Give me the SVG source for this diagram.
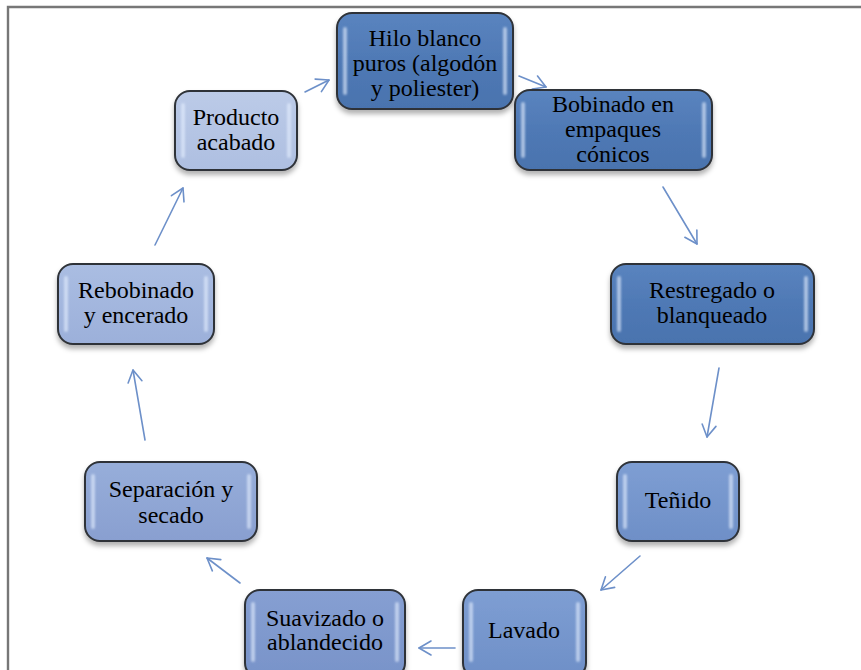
<svg xmlns="http://www.w3.org/2000/svg" width="861" height="670" viewBox="0 0 861 670">
  <style>
    .node rect.box { stroke: #2f3338; stroke-width: 2; }
    .node rect.shine { fill: #e6f0ff; opacity: 0.6; filter: url(#soft); }
    .node text { font-family: "Liberation Serif", "Times New Roman", serif; font-size: 24px; fill: #000; text-anchor: middle; }
    .link { fill: none; stroke: #6d90c9; stroke-width: 1.6; stroke-linecap: round; marker-end: url(#chev); }
    .frame { stroke: #777; stroke-width: 2.4; fill: none; }
  </style>
  <defs>
    <marker id="chev" markerUnits="userSpaceOnUse" markerWidth="30" markerHeight="30" viewBox="-15 -15 30 30" refX="0" refY="0" orient="auto">
      <path d="M-12,-7 L0,0 L-12,7" fill="none" stroke="#6d90c9" stroke-width="1.6" stroke-linecap="round" stroke-linejoin="round"/>
    </marker>
    <filter id="shadow" x="-10%" y="-10%" width="120%" height="135%">
      <feDropShadow dx="0" dy="4" stdDeviation="2.5" flood-color="#000" flood-opacity="0.3"/>
    </filter>
    <filter id="soft" x="-100%" y="-10%" width="300%" height="120%">
      <feGaussianBlur stdDeviation="0.8"/>
    </filter>
    <linearGradient id="gDark" x1="0" y1="0" x2="0" y2="1">
      <stop offset="0" stop-color="#5a84bf"/>
      <stop offset="0.5" stop-color="#4f79b5"/>
      <stop offset="1" stop-color="#4a73ae"/>
    </linearGradient>
    <linearGradient id="gMid" x1="0" y1="0" x2="0" y2="1">
      <stop offset="0" stop-color="#7e9ed3"/>
      <stop offset="1" stop-color="#6e8fc7"/>
    </linearGradient>
    <linearGradient id="gMid2" x1="0" y1="0" x2="0" y2="1">
      <stop offset="0" stop-color="#869fd2"/>
      <stop offset="1" stop-color="#7893c9"/>
    </linearGradient>
    <linearGradient id="gLight" x1="0" y1="0" x2="0" y2="1">
      <stop offset="0" stop-color="#97aeda"/>
      <stop offset="1" stop-color="#899fd0"/>
    </linearGradient>
    <linearGradient id="gLighter" x1="0" y1="0" x2="0" y2="1">
      <stop offset="0" stop-color="#aabde2"/>
      <stop offset="1" stop-color="#9cb0da"/>
    </linearGradient>
    <linearGradient id="gLightest" x1="0" y1="0" x2="0" y2="1">
      <stop offset="0" stop-color="#bccbe8"/>
      <stop offset="1" stop-color="#aebfe1"/>
    </linearGradient>
  </defs>

  <rect width="861" height="670" fill="#fff"/>
  <!-- page frame -->
  <path class="frame" d="M8,670 L8,7 L861,7"/>

  <!-- connectors -->
  <g id="connectors">
    <path class="link" d="M305,92 L329,80"/>
    <path class="link" d="M519,76 L546,87"/>
    <path class="link" d="M663,187 L697,244"/>
    <path class="link" d="M719,368 L707,437"/>
    <path class="link" d="M640,556 L601,590"/>
    <path class="link" d="M455,648 L419,648"/>
    <path class="link" d="M240,583 L207,558"/>
    <path class="link" d="M145,440 L133,370"/>
    <path class="link" d="M155,245 L183,188"/>
  </g>

  <g id="n1" class="node">
    <rect class="box" x="337" y="13" width="176" height="96" rx="15" fill="url(#gDark)" filter="url(#shadow)"/>
    <rect class="shine" x="343" y="27" width="4" height="68" rx="2"/>
    <rect class="shine" x="503" y="27" width="4" height="68" rx="2"/>
    <text x="425" y="46">Hilo blanco</text>
    <text x="425" y="71">puros (algodón</text>
    <text x="425" y="96">y poliester)</text>
  </g>

  <g id="n2" class="node">
    <rect class="box" x="515" y="90" width="197" height="80" rx="15" fill="url(#gDark)" filter="url(#shadow)"/>
    <rect class="shine" x="521" y="102" width="4" height="56" rx="2"/>
    <rect class="shine" x="702" y="102" width="4" height="56" rx="2"/>
    <text x="613" y="112">Bobinado en</text>
    <text x="613" y="137">empaques</text>
    <text x="613" y="162">cónicos</text>
  </g>

  <g id="n3" class="node">
    <rect class="box" x="611" y="264" width="203" height="80" rx="15" fill="url(#gDark)" filter="url(#shadow)"/>
    <rect class="shine" x="617" y="276" width="4" height="56" rx="2"/>
    <rect class="shine" x="804" y="276" width="4" height="56" rx="2"/>
    <text x="712" y="298">Restregado o</text>
    <text x="712" y="323">blanqueado</text>
  </g>

  <g id="n4" class="node">
    <rect class="box" x="617" y="462" width="122" height="79" rx="15" fill="url(#gMid)" filter="url(#shadow)"/>
    <rect class="shine" x="623" y="474" width="4" height="55" rx="2"/>
    <rect class="shine" x="729" y="474" width="4" height="55" rx="2"/>
    <text x="678" y="508">Teñido</text>
  </g>

  <g id="n5" class="node">
    <rect class="box" x="463" y="590" width="123" height="88" rx="15" fill="url(#gMid)" filter="url(#shadow)"/>
    <rect class="shine" x="469" y="602" width="4" height="60" rx="2"/>
    <rect class="shine" x="576" y="602" width="4" height="60" rx="2"/>
    <text x="524" y="638">Lavado</text>
  </g>

  <g id="n6" class="node">
    <rect class="box" x="245" y="590" width="160" height="88" rx="15" fill="url(#gMid2)" filter="url(#shadow)"/>
    <rect class="shine" x="251" y="602" width="4" height="60" rx="2"/>
    <rect class="shine" x="395" y="602" width="4" height="60" rx="2"/>
    <text x="325" y="626">Suavizado o</text>
    <text x="325" y="650">ablandecido</text>
  </g>

  <g id="n7" class="node">
    <rect class="box" x="85" y="462" width="172" height="79" rx="15" fill="url(#gLight)" filter="url(#shadow)"/>
    <rect class="shine" x="91" y="474" width="4" height="55" rx="2"/>
    <rect class="shine" x="247" y="474" width="4" height="55" rx="2"/>
    <text x="171" y="497">Separación y</text>
    <text x="171" y="523">secado</text>
  </g>

  <g id="n8" class="node">
    <rect class="box" x="58" y="264" width="156" height="80" rx="15" fill="url(#gLighter)" filter="url(#shadow)"/>
    <rect class="shine" x="64" y="276" width="4" height="56" rx="2"/>
    <rect class="shine" x="204" y="276" width="4" height="56" rx="2"/>
    <text x="136" y="298">Rebobinado</text>
    <text x="136" y="323">y encerado</text>
  </g>

  <g id="n9" class="node">
    <rect class="box" x="175" y="91" width="122" height="79" rx="15" fill="url(#gLightest)" filter="url(#shadow)"/>
    <rect class="shine" x="181" y="103" width="4" height="55" rx="2"/>
    <rect class="shine" x="287" y="103" width="4" height="55" rx="2"/>
    <text x="236" y="125">Producto</text>
    <text x="236" y="150">acabado</text>
  </g>
</svg>
